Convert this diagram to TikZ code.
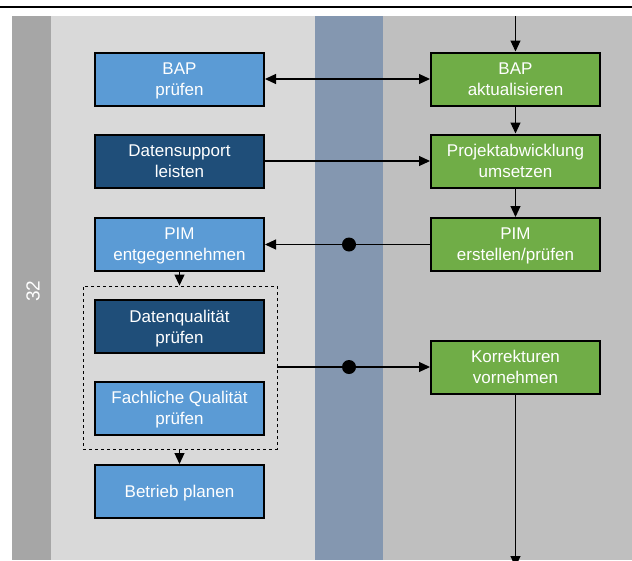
\documentclass[tikz,border=0pt]{standalone}
\usepackage{fontspec}
\setmainfont{Liberation Sans}
\usetikzlibrary{positioning}
\usetikzlibrary{arrows.meta}

\definecolor{stripgray}{HTML}{A6A6A6}
\definecolor{lanelight}{HTML}{D9D9D9}
\definecolor{laneblue}{HTML}{8497B0}
\definecolor{lanedark}{HTML}{BFBFBF}
\definecolor{boxlight}{HTML}{5B9BD5}
\definecolor{boxdark}{HTML}{1F4E79}
\definecolor{boxgreen}{HTML}{70AD47}

\tikzset{
 task/.style={draw=black,line width=2pt,minimum width=169pt,minimum height=53pt,inner sep=0pt,text depth=0pt,align=center,text=white,font=\fontsize{17}{21}\selectfont},
 lightbox/.style={task,fill=boxlight},
 darkbox/.style={task,fill=boxdark},
 greenbox/.style={task,fill=boxgreen},
 groupbox/.style={draw=black,dashed,line width=0.9pt,minimum width=194pt,minimum height=163pt,inner sep=0pt},
 arr/.style={line width=1.1pt,-{Triangle[length=11pt,width=10pt]}},
 line/.style={line width=1.1pt},
 dot/.style={circle,fill=black,inner sep=0pt,minimum size=14pt}
}

\begin{document}
\begin{tikzpicture}[x=1pt,y=-1pt]
 \useasboundingbox (0,0) rectangle (632,560);
 \clip (0,0) rectangle (632,560);
 \fill[white] (0,0) rectangle (632,560);
 \fill[stripgray] (12,16) rectangle (50.5,560);
 \fill[lanelight] (50.5,16) rectangle (314.5,560);
 \fill[laneblue] (314.5,16) rectangle (383,560);
 \fill[lanedark] (383,16) rectangle (632,560);
 \draw[line width=2.3pt] (0,7.2) -- (632,7.2);
 \node[rotate=90,text=white,font=\fontsize{19}{21}\selectfont] (nr) at (33,291) {32};

 \node[lightbox] (bapP) at (179.5,79) {BAP\\prüfen};
 \node[darkbox] (supp) at (179.5,161) {Datensupport\\leisten};
 \node[lightbox] (pimE) at (179.5,244.5) {PIM\\entgegennehmen};
 \node[groupbox] (grp) at (180,367.5) {};
 \node[darkbox] (dqual) at (179.5,326.5) {Datenqualität\\prüfen};
 \node[lightbox] (fqual) at (179.5,408) {Fachliche Qualität\\prüfen};
 \node[lightbox] (betr) at (179.5,491.5) {Betrieb planen};

 \node[greenbox] (bapA) at (515.5,79) {BAP\\aktualisieren};
 \node[greenbox] (proj) at (515.5,161) {Projektabwicklung\\umsetzen};
 \node[greenbox] (pimC) at (515.5,244.5) {PIM\\erstellen/prüfen};
 \node[greenbox] (korr) at (515.5,367) {Korrekturen\\vornehmen};

 \coordinate (top) at (515.5,16);
 \coordinate (bot) at (515.5,567);
 \node[dot] (d1) at (349,244.5) {};
 \node[dot] (d2) at (349,367) {};

 \draw[arr] (top) -- (bapA);
 \draw[arr] (bapA) -- (proj);
 \draw[arr] (proj) -- (pimC);
 \draw[line width=1.1pt,{Triangle[length=11pt,width=10pt]}-{Triangle[length=11pt,width=10pt]}] (bapP) -- (bapA);
 \draw[arr] (supp) -- (proj);
 \draw[line] (pimC) -- (d1);
 \draw[arr] (d1) -- (pimE);
 \draw[arr] (pimE) -- (grp.north -| pimE);
 \draw[arr] (grp.south -| betr) -- (betr);
 \draw[line] (grp.east |- d2) -- (d2);
 \draw[arr] (d2) -- (korr);
 \draw[arr] (korr) -- (bot);
\end{tikzpicture}
\end{document}
